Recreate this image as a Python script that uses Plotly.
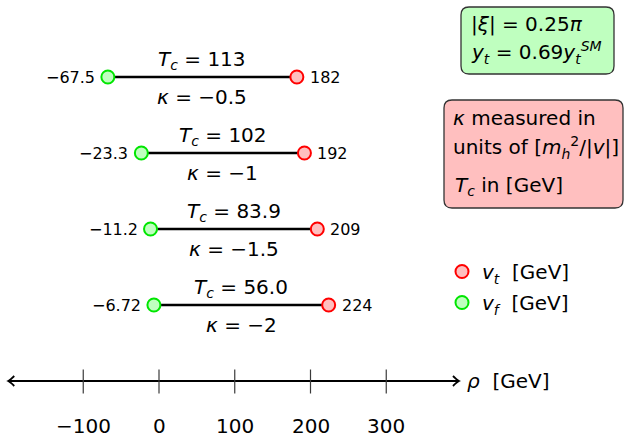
import plotly.graph_objects as go

# ---------------- data ----------------
kappa = [-0.5, -1, -1.5, -2]
tc_labels = ["113", "102", "83.9", "56.0"]
v_false = [-67.5, -23.3, -11.2, -6.72]
v_true = [182, 192, 209, 224]
tick_vals = [-100, 0, 100, 200, 300]
tick_text = ["−100", "0", "100", "200", "300"]

# ---------------- geometry ----------------
W, H = 627, 439
X0_PX, PX_PER_UNIT = 159, 0.7575     # pixel of rho = 0, pixels per GeV
Y0_PX, PX_PER_ROW = 381, 76          # pixel of axis line, pixels per row
x_range = [(0 - X0_PX) / PX_PER_UNIT, (W - X0_PX) / PX_PER_UNIT]
y_range = [(Y0_PX - H) / PX_PER_ROW, Y0_PX / PX_PER_ROW]
AXIS_MIN, AXIS_MAX = -199, 396

FONT = "DejaVu Sans"
GREEN_EDGE = "rgb(0,230,0)"
GREEN_FILL = "rgb(191,255,191)"
RED_EDGE = "rgb(255,0,0)"
RED_FILL = "rgb(255,191,191)"


def px(x):
    return x / W


def py(y):
    return 1 - y / H


def fmt(v):
    return f"{v:g}".replace("-", "−")


row_y = [len(kappa) - i for i in range(len(kappa))]

fig = go.Figure()

# connecting segments
for i in range(len(kappa)):
    fig.add_trace(go.Scatter(
        x=[v_false[i], v_true[i]], y=[row_y[i], row_y[i]],
        mode="lines", line=dict(color="black", width=2.5),
        showlegend=False, hoverinfo="skip"))

fig.add_trace(go.Scatter(
    x=v_true, y=row_y, mode="markers",
    name="<i>v</i><sub><i>t</i></sub>  [GeV]",
    marker=dict(size=13, color=RED_FILL, line=dict(color=RED_EDGE, width=2)),
    legendgroup="t"))
fig.add_trace(go.Scatter(
    x=v_false, y=row_y, mode="markers",
    name="<i>v</i><sub><i>f</i></sub>  [GeV]",
    marker=dict(size=13, color=GREEN_FILL, line=dict(color=GREEN_EDGE, width=2)),
    legendgroup="f"))

annotations = []
for i in range(len(kappa)):
    y = row_y[i]
    mid = (v_false[i] + v_true[i]) / 2
    annotations.append(dict(
        x=mid, y=y, yshift=17, showarrow=False,
        text=f"<i>T</i><sub><i>c</i></sub> = {tc_labels[i]}",
        font=dict(size=20, color="black", family=FONT)))
    annotations.append(dict(
        x=mid, y=y, yshift=-20, showarrow=False,
        text=f"<i>κ</i> = {fmt(kappa[i])}",
        font=dict(size=20, color="black", family=FONT)))
    annotations.append(dict(
        x=v_false[i], y=y, xanchor="right", xshift=-11, showarrow=False,
        text=fmt(v_false[i]), font=dict(size=16, color="black", family=FONT)))
    annotations.append(dict(
        x=v_true[i], y=y, xanchor="left", xshift=11, showarrow=False,
        text=fmt(v_true[i]), font=dict(size=16, color="black", family=FONT)))

# axis tick labels
for v, t in zip(tick_vals, tick_text):
    annotations.append(dict(
        x=v, y=0, yshift=-45, showarrow=False, text=t, borderpad=0,
        font=dict(size=20, color="black", family=FONT)))

# axis title
annotations.append(dict(
    x=px(465), y=py(381), xref="paper", yref="paper", xanchor="left",
    yanchor="middle", showarrow=False, text="<i>ρ</i>  [GeV]",
    font=dict(size=20, color="black", family=FONT)))

# info boxes text
box_text = [
    (469, 24, "|<i>ξ</i>| = 0.25<i>π</i>"),
    (469, 52, "<i>y</i><sub><i>t</i></sub> = 0.69<i>y</i><sub><i>t</i></sub><sup><i>SM</i></sup>"),
    (451, 118, "<i>κ</i> measured in"),
    (451, 147, "units of [<i>m</i><sub><i>h</i></sub><sup>2</sup>/|<i>v</i>|]"),
    (453, 186, "<i>T</i><sub><i>c</i></sub> in [GeV]"),
]
for x, y, t in box_text:
    annotations.append(dict(
        x=px(x), y=py(y), xref="paper", yref="paper", xanchor="left",
        yanchor="middle", showarrow=False, text=t,
        font=dict(size=20, color="black", family=FONT)))


def rounded(x0, y0, x1, y1, r):
    pts = [
        f"M {px(x0 + r)},{py(y0)}",
        f"L {px(x1 - r)},{py(y0)}",
        f"Q {px(x1)},{py(y0)} {px(x1)},{py(y0 + r)}",
        f"L {px(x1)},{py(y1 - r)}",
        f"Q {px(x1)},{py(y1)} {px(x1 - r)},{py(y1)}",
        f"L {px(x0 + r)},{py(y1)}",
        f"Q {px(x0)},{py(y1)} {px(x0)},{py(y1 - r)}",
        f"L {px(x0)},{py(y0 + r)}",
        f"Q {px(x0)},{py(y0)} {px(x0 + r)},{py(y0)}",
        "Z",
    ]
    return " ".join(pts)


shapes = []
shapes.append(dict(type="path", xref="paper", yref="paper",
                   path=rounded(461, 7, 614, 74, 8),
                   fillcolor=GREEN_FILL, line=dict(color="#333333", width=1.3),
                   layer="below"))
shapes.append(dict(type="path", xref="paper", yref="paper",
                   path=rounded(444, 100, 623, 208, 8),
                   fillcolor=RED_FILL, line=dict(color="#333333", width=1.3),
                   layer="below"))

# axis line
shapes.append(dict(type="line", xref="x", yref="y", x0=AXIS_MIN, x1=AXIS_MAX,
                   y0=0, y1=0, line=dict(color="black", width=2)))
# arrow tips
lx = X0_PX + AXIS_MIN * PX_PER_UNIT
rx = X0_PX + AXIS_MAX * PX_PER_UNIT
ay = Y0_PX
shapes.append(dict(type="path", xref="paper", yref="paper",
                   path=(f"M {px(lx + 6)},{py(ay - 5)} Q {px(lx + 2)},{py(ay - 1)} {px(lx)},{py(ay)} "
                         f"Q {px(lx + 2)},{py(ay + 1)} {px(lx + 6)},{py(ay + 5)}"),
                   line=dict(color="black", width=1.8)))
shapes.append(dict(type="path", xref="paper", yref="paper",
                   path=(f"M {px(rx - 6)},{py(ay - 5)} Q {px(rx - 2)},{py(ay - 1)} {px(rx)},{py(ay)} "
                         f"Q {px(rx - 2)},{py(ay + 1)} {px(rx - 6)},{py(ay + 5)}"),
                   line=dict(color="black", width=1.8)))
# tick marks
for v in tick_vals:
    shapes.append(dict(type="line", xref="x", yref="y", x0=v, x1=v,
                       y0=11.5 / PX_PER_ROW, y1=-12.5 / PX_PER_ROW,
                       line=dict(color="#3a3a3a", width=1.2)))

fig.update_layout(
    width=W, height=H,
    margin=dict(l=0, r=0, t=0, b=0),
    paper_bgcolor="white", plot_bgcolor="white",
    xaxis=dict(range=x_range, visible=False, fixedrange=True),
    yaxis=dict(range=y_range, visible=False, fixedrange=True),
    annotations=annotations, shapes=shapes,
    showlegend=True,
    legend=dict(x=px(442), y=py(252), xanchor="left", yanchor="top",
                bgcolor="rgba(0,0,0,0)", font=dict(size=20, family=FONT, color="black"),
                itemsizing="trace", traceorder="grouped", tracegroupgap=2),
    font=dict(family=FONT),
)

fig.write_html("out.html")
